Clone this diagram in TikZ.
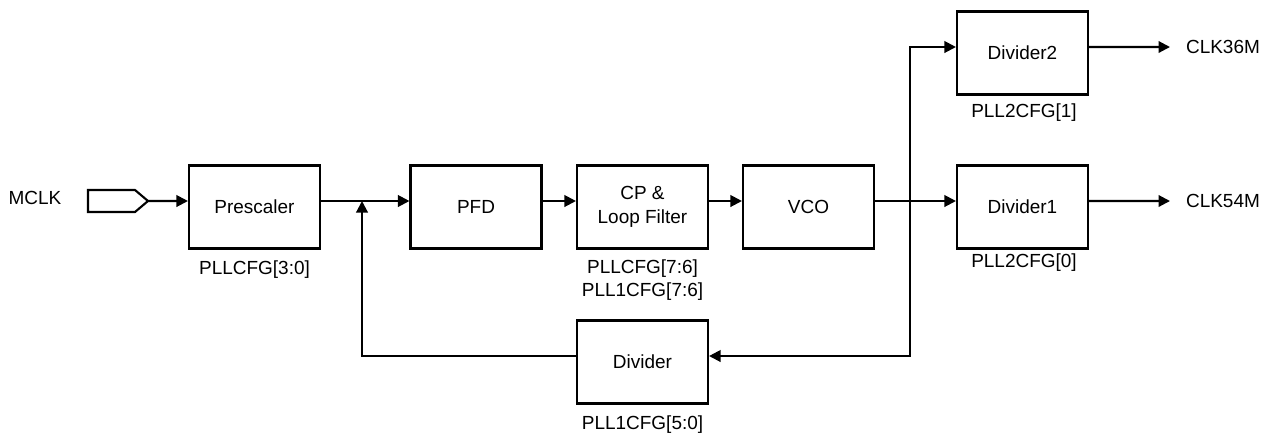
\documentclass[tikz,border=0pt]{standalone}
\usepackage{fontspec}
\setmainfont{Liberation Sans}
\usetikzlibrary{arrows.meta}

\begin{document}
\begin{tikzpicture}[x=0.02cm,y=-0.02cm,font=\fontsize{10.8pt}{13.3pt}\selectfont,
    line width=1.2pt,>={Triangle[length=0.23cm,width=0.23cm]},
    block/.style={draw,minimum width=2.62cm,minimum height=1.66cm,align=center},
    wire/.style={yshift=0.12cm},
    outlbl/.style={anchor=west,inner xsep=0.3cm}]
  \useasboundingbox (0,0) rectangle (1271,437);
  % input pin
  \node (mclk) at (35,198) {MCLK};
  \draw (88,190) -- (135,190) -- (148,201) -- (135,212) -- (88,212) -- cycle;
  \coordinate (pin) at (148,201);
  % blocks
  \node[block] (pre)  at (254.5,207) {Prescaler};
  \node[block] (pfd)  at (476,207)   {PFD};
  \node[block] (cp)   at (642.5,207) {CP \&\\Loop Filter};
  \node[block] (vco)  at (808.5,207) {VCO};
  \node[block] (div2) at (1022.5,53) {Divider2};
  \node[block] (div1) at (1022.5,207){Divider1};
  \node[block] (div)  at (642.5,362) {Divider};
  % register fields
  \node (preCfg)  at (254.5,270) {PLLCFG[3:0]};
  \node[align=center] (cpCfg) at (642.5,280) {PLLCFG[7:6]\\PLL1CFG[7:6]};
  \node (div2Cfg) at (1024,113)  {PLL2CFG[1]};
  \node (div1Cfg) at (1024,263)  {PLL2CFG[0]};
  \node (divCfg)  at (642.5,425) {PLL1CFG[5:0]};
  % outputs
  \node[outlbl] (clk36) at (1170,47)  {CLK36M};
  \node[outlbl] (clk54) at (1170,201) {CLK54M};
  % forward path
  \coordinate (join) at (362,201);
  \coordinate (tap)  at (910,201);
  \draw[->] (pin) -- ([wire]pre.west);
  \draw[->] ([wire]pre.east) -- ([wire]pfd.west);
  \draw[->] ([wire]pfd.east) -- ([wire]cp.west);
  \draw[->] ([wire]cp.east)  -- ([wire]vco.west);
  \draw[->] ([wire]vco.east) -- ([wire]div1.west);
  \draw[->] (tap) |- ([wire]div2.west);
  \draw[->] ([wire]div2.east) -- (clk36.west);
  \draw[->] ([wire]div1.east) -- (clk54.west);
  % feedback
  \draw[->] (tap) |- ([wire]div.east);
  \draw[->] ([wire]div.west) -| (join);
\end{tikzpicture}
\end{document}
